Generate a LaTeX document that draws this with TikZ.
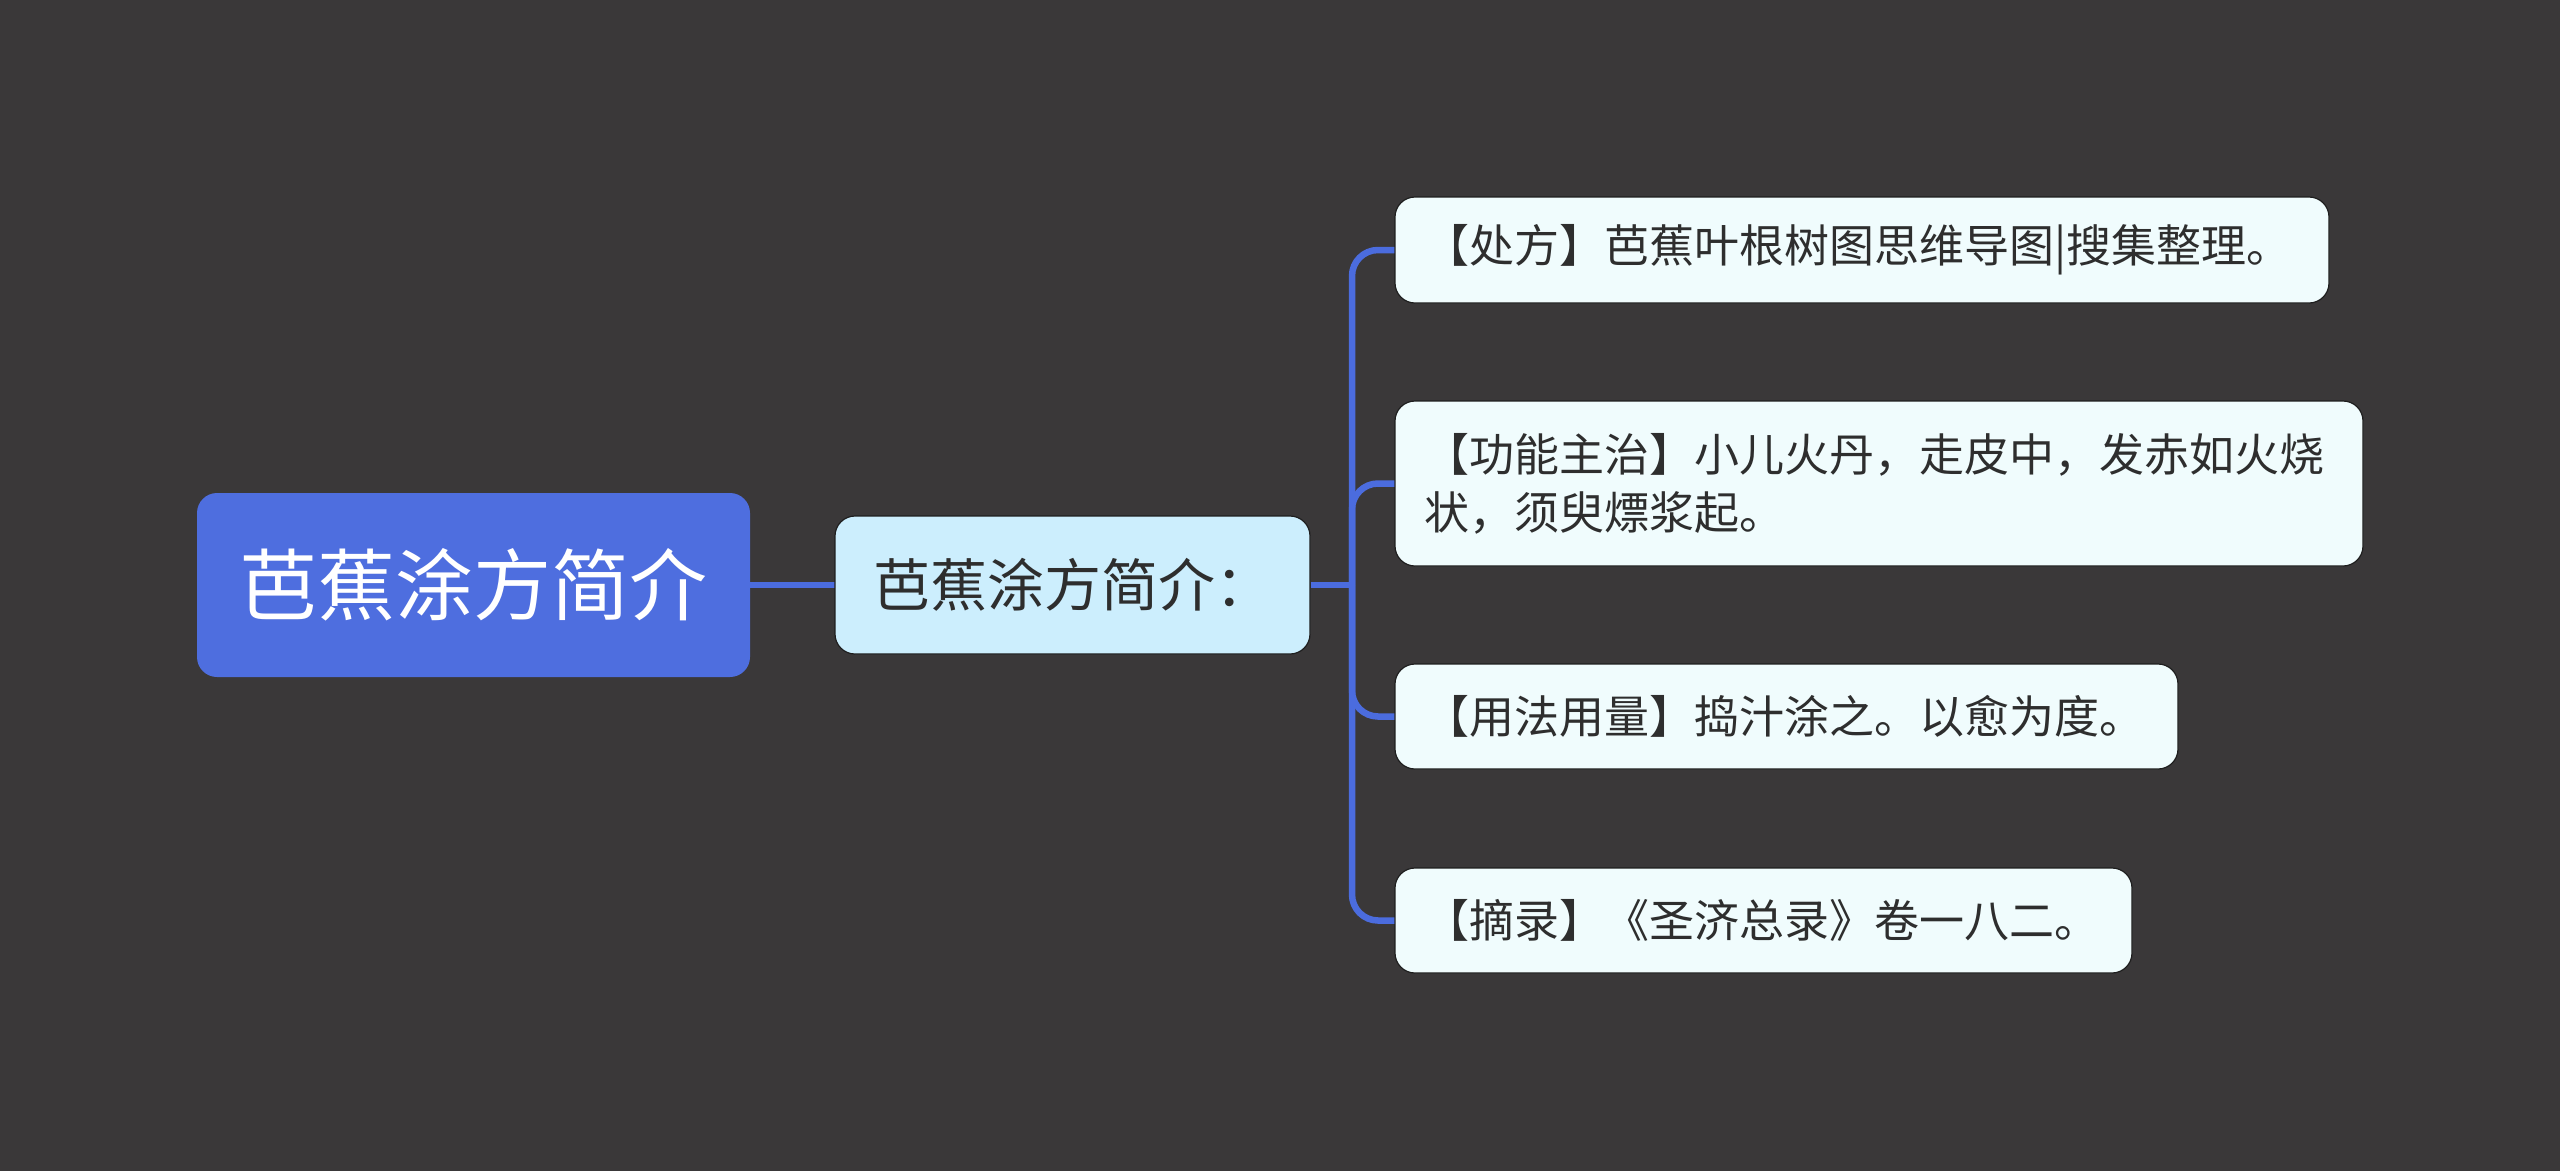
\documentclass[tikz,border=0pt]{standalone}
\usepackage{fontspec}
\setmainfont{Noto Sans CJK SC}
\definecolor{bgc}{HTML}{3A3839}
\definecolor{rootc}{HTML}{4E6EDF}
\definecolor{linec}{HTML}{4B6CDE}
\definecolor{midc}{HTML}{CCEEFD}
\definecolor{leafc}{HTML}{F0FCFD}
\definecolor{txtc}{HTML}{2E2E2E}
\definecolor{edgec}{HTML}{1E1E1E}
\tikzset{
  rootbox/.style={fill=rootc, rounded corners=20pt, text=white, inner sep=0pt,
    font=\fontsize{78}{94}\selectfont, minimum width=553pt, minimum height=184pt},
  midbox/.style={fill=midc, draw=edgec, line width=1.2pt, rounded corners=20pt, text=txtc, inner sep=0pt,
    font=\fontsize{57}{68}\selectfont, minimum width=475pt, minimum height=138pt},
  leafbox/.style={fill=leafc, draw=edgec, line width=1.2pt, rounded corners=20pt, text=txtc,
    inner xsep=29pt, inner ysep=0pt, align=left,
    font=\fontsize{45}{58}\selectfont},
  conn/.style={draw=linec, line width=6.5pt},
  branch/.style={conn, rounded corners=26pt}
}
\begin{document}
\begin{tikzpicture}[x=1pt,y=-1pt]
\fill[bgc] (0,0) rectangle (2560,1171);
\useasboundingbox (0,0) rectangle (2560,1171);

\coordinate (bx) at (1352,585);

\draw[conn] (473,585) -- (1072,585);

\node[rootbox] (root) at (473.5,585) {芭蕉涂方简介};
\node[midbox] (mid) at (1072.5,585) {芭蕉涂方简介：};

\node[leafbox, text width=876pt, minimum height=106pt] (n1) at (1862,250)
  {【处方】芭蕉叶根树图思维导图|搜集整理。};
\node[leafbox, text width=910pt, minimum height=165pt] (n2) at (1879,483.5)
  {【功能主治】小儿火丹，走皮中，发赤如火烧\\状，须臾熛浆起。};
\node[leafbox, text width=725pt, minimum height=105pt] (n3) at (1786.5,716.5)
  {【用法用量】捣汁涂之。以愈为度。};
\node[leafbox, text width=679pt, minimum height=105pt] (n4) at (1763.5,920.5)
  {【摘录】《圣济总录》卷一八二。};

\draw[conn] (root.east) -- (mid.west);
\draw[conn] (mid.east) -- (bx);
\draw[branch] (bx) |- (n1.west);
\draw[branch] (bx) |- (n2.west);
\draw[branch] (bx) |- (n3.west);
\draw[branch] (bx) |- (n4.west);

% redraw leaf boxes above connector ends
\end{tikzpicture}
\end{document}
